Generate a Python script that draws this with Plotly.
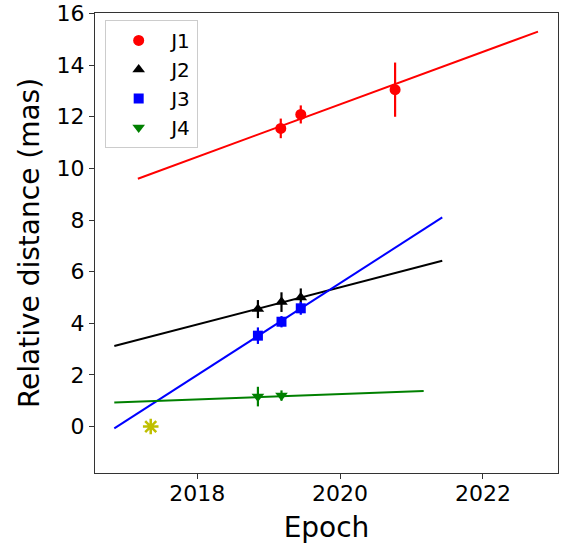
import plotly.graph_objects as go

# Data
j1_epoch = [2019.17, 2019.45, 2020.77]
j1_dist = [11.55, 12.09, 13.05]
j1_err = [0.38, 0.35, 1.05]

j2_epoch = [2018.85, 2019.18, 2019.45]
j2_dist = [4.55, 4.82, 5.0]
j2_err = [0.35, 0.38, 0.35]

j3_epoch = [2018.85, 2019.18, 2019.45]
j3_dist = [3.52, 4.06, 4.58]
j3_err = [0.32, 0.22, 0.25]

j4_epoch = [2018.85, 2019.18]
j4_dist = [1.16, 1.2]
j4_err = [0.38, 0.2]

core_epoch = [2017.35]
core_dist = [0.0]

# Fitted lines (endpoints)
fit1_x = [2017.17, 2022.77]
fit1_y = [9.6, 15.3]
fit2_x = [2016.84, 2021.43]
fit2_y = [3.12, 6.42]
fit3_x = [2016.84, 2021.43]
fit3_y = [-0.07, 8.1]
fit4_x = [2016.84, 2021.17]
fit4_y = [0.93, 1.38]

RED = "#ff0000"
BLACK = "#000000"
BLUE = "#0000ff"
GREEN = "#008000"
YEL = "#bfbf00"

fig = go.Figure()

for fx, fy, c in [(fit1_x, fit1_y, RED), (fit2_x, fit2_y, BLACK),
                  (fit3_x, fit3_y, BLUE), (fit4_x, fit4_y, GREEN)]:
    fig.add_trace(go.Scatter(x=fx, y=fy, mode="lines",
                             line=dict(color=c, width=2), showlegend=False,
                             hoverinfo="skip"))

series = [
    ("J1", j1_epoch, j1_dist, j1_err, RED, "circle", 11),
    ("J2", j2_epoch, j2_dist, j2_err, BLACK, "triangle-up", 11),
    ("J3", j3_epoch, j3_dist, j3_err, BLUE, "square", 10),
    ("J4", j4_epoch, j4_dist, j4_err, GREEN, "triangle-down", 11),
]
for name, x, y, e, c, sym, sz in series:
    fig.add_trace(go.Scatter(
        x=x, y=y, mode="markers", name=name,
        marker=dict(color=c, symbol=sym, size=sz, line=dict(width=0)),
        error_y=dict(type="data", array=e, visible=True, color=c,
                     thickness=2.2, width=0),
    ))

fig.add_trace(go.Scatter(
    x=core_epoch, y=core_dist, mode="markers", showlegend=False,
    marker=dict(color=YEL, symbol="asterisk-open", size=13,
                line=dict(color=YEL, width=2.5)),
))

axis_common = dict(
    showline=True, linecolor="#333333", linewidth=1.3, mirror=True,
    ticks="outside", ticklen=5, tickwidth=1.2, tickcolor="#333333",
    showgrid=False, zeroline=False, automargin=False,
    tickfont=dict(family="DejaVu Sans", size=22, color="black"),
)

fig.update_layout(
    width=565, height=545,
    margin=dict(l=95, r=7, t=13, b=72),
    plot_bgcolor="white", paper_bgcolor="white",
    xaxis=dict(range=[2016.57, 2023.05], tickvals=[2018, 2020, 2022],
               ticklabelstandoff=-5,
               title=dict(text="Epoch", font=dict(family="DejaVu Sans", size=28, color="black"),
                          standoff=12),
               **axis_common),
    yaxis=dict(range=[-1.8, 16.02], tickvals=[0, 2, 4, 6, 8, 10, 12, 14, 16],
               title=dict(text="Relative distance (mas)",
                          font=dict(family="DejaVu Sans", size=28, color="black"),
                          standoff=8),
               **axis_common),
    legend=dict(x=0.022, y=0.985, xanchor="left", yanchor="top",
                bgcolor="rgba(255,255,255,0.8)", bordercolor="#cccccc",
                borderwidth=1,
                font=dict(family="DejaVu Sans", size=20, color="black"),
                itemwidth=55),
)

fig.write_html("out.html")
